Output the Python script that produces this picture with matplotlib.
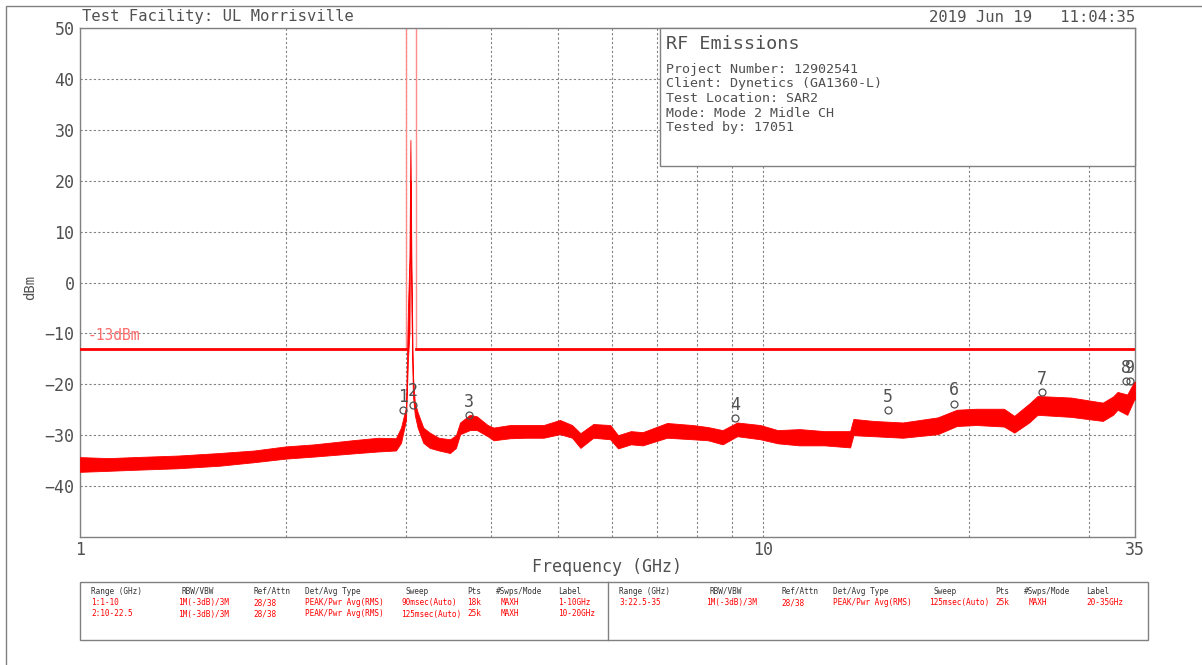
import numpy as np
import matplotlib.pyplot as plt
from matplotlib.patches import Rectangle

W, H = 1202, 665

# trace envelope (GHz, dBm low / high)
freq_ghz = [1.0, 1.1, 1.2, 1.39, 1.6, 1.8, 2.0, 2.2, 2.5, 2.73, 2.9, 2.95, 3.0,
            3.02, 3.035, 3.045, 3.055, 3.07, 3.09, 3.12, 3.18, 3.25, 3.35, 3.48,
            3.55, 3.6, 3.72, 3.81, 3.95, 4.03, 4.26, 4.5, 4.77, 5.04, 5.25, 5.4,
            5.64, 5.97, 6.13, 6.4, 6.66, 7.23, 7.88, 8.3, 8.72, 9.16, 9.9, 10.5,
            11.3, 12.3, 13.4, 13.55, 14.5, 16.0, 18.0, 19.2, 20.5, 22.5, 23.3,
            24.5, 25.2, 28.2, 31.4, 32.5, 33.0, 34.1, 34.9, 35.0]
level_lo = [-37.2, -37.0, -36.8, -36.5, -36.0, -35.3, -34.6, -34.2, -33.6, -33.2,
            -33.0, -31.5, -27.0, -15.0, -10.0, 20.0, -5.0, -22.0, -26.0, -28.5,
            -31.5, -32.5, -33.0, -33.5, -32.5, -29.8, -29.0, -29.0, -30.2, -31.0,
            -30.6, -30.5, -30.5, -29.8, -30.5, -32.5, -30.5, -30.8, -32.6, -31.8,
            -32.0, -30.5, -30.8, -31.0, -31.8, -30.2, -30.8, -31.6, -32.0, -32.0,
            -32.4, -30.0, -30.2, -30.5, -29.8, -28.2, -28.0, -28.3, -29.5, -27.5,
            -26.0, -26.4, -27.2, -26.0, -25.0, -26.0, -23.0, -23.0]
level_hi = [-34.3, -34.5, -34.3, -34.0, -33.5, -33.0, -32.2, -31.8, -31.0, -30.5,
            -30.6, -28.5, -24.5, -5.0, 5.0, 28.0, 5.0, -18.0, -23.5, -25.5,
            -28.5, -29.5, -30.5, -30.8, -30.0, -27.5, -26.0, -26.3, -28.0, -28.5,
            -28.0, -28.0, -28.0, -27.0, -28.0, -29.6, -27.8, -28.0, -30.0, -29.2,
            -29.4, -27.6, -28.0, -28.4, -29.0, -27.5, -28.0, -29.0, -28.8, -29.2,
            -29.2, -26.8, -27.2, -27.5, -26.5, -25.0, -24.8, -24.8, -26.2, -23.8,
            -22.3, -22.6, -23.6, -22.4, -21.5, -22.0, -19.5, -19.5]

# -13 dBm limit, lifted over the carrier band
limit_freq = [1.0, 3.0, 3.0, 3.1, 3.1, 35.0]
limit_level = [-13, -13, 100, 100, -13, -13]

marker_freq = [2.97, 3.07, 3.71, 9.1, 15.2, 19.0, 25.6, 33.9, 34.4]
marker_level = [-25.0, -24.0, -26.1, -26.7, -25.1, -23.8, -21.6, -19.4, -19.4]

info_lines = ['Project Number: 12902541', 'Client: Dynetics (GA1360-L)',
              'Test Location: SAR2', 'Mode: Mode 2 Midle CH', 'Tested by: 17051']

table_header = ['Range (GHz)', 'RBW/VBW', 'Ref/Attn', 'Det/Avg Type', 'Sweep',
                'Pts', '#Swps/Mode', 'Label']
table_left = [['1:1-10', '1M(-3dB)/3M', '28/38', 'PEAK/Pwr Avg(RMS)', '90msec(Auto)',
               '18k', 'MAXH', '1-10GHz'],
              ['2:10-22.5', '1M(-3dB)/3M', '28/38', 'PEAK/Pwr Avg(RMS)', '125msec(Auto)',
               '25k', 'MAXH', '10-20GHz']]
table_right = [['3:22.5-35', '1M(-3dB)/3M', '28/38', 'PEAK/Pwr Avg(RMS)', '125msec(Auto)',
                '25k', 'MAXH', '20-35GHz']]

plt.rcParams['font.family'] = ['DejaVu Sans Mono', 'DejaVu Sans']
gray = '#505050'
line_gray = '#808080'
red = '#ff0000'


def fx(px):
    return px / W


def fy(py):
    return 1 - py / H


fig = plt.figure(figsize=(W / 100, H / 100), dpi=100)
ax = fig.add_axes([fx(80), fy(537), fx(1135) - fx(80), fy(28) - fy(537)])

ax.set_xscale('log')
ax.set_xlim(1, 35)
ax.set_ylim(-50, 50)

ax.fill_between(freq_ghz, level_lo, level_hi, color=red, lw=0.6, zorder=3)
ax.plot(limit_freq, limit_level, color='#ff8a8a', lw=1, zorder=2)
ax.plot(limit_freq[:2], limit_level[:2], color=red, lw=2, zorder=4)
ax.plot(limit_freq[4:], limit_level[4:], color=red, lw=2, zorder=4)
ax.text(1.025, -10.5, '-13dBm', color='#ff6a6a', fontsize=10.5, va='center', zorder=4)

ax.plot(marker_freq, marker_level, 'o', ms=5, mfc='none', mec=gray, mew=0.9, zorder=5)
for i, (f, l) in enumerate(zip(marker_freq, marker_level)):
    ax.annotate(str(i + 1), (f, l), xytext=(0, 3), textcoords='offset points',
                ha='center', va='bottom', fontsize=12, color=gray, zorder=5)

ax.set_yticks(np.arange(-40, 51, 10))
ax.set_xticks([1, 10, 35])
ax.set_xticklabels(['1', '10', '35'])
ax.set_xticks([2, 3, 4, 5, 6, 7, 8, 9, 20, 30], minor=True)
ax.xaxis.set_minor_formatter(plt.NullFormatter())
ax.tick_params(length=0, which='both', colors=gray, labelsize=12)
ax.tick_params(axis='x', pad=3)
ax.tick_params(axis='y', pad=4)
ax.grid(True, which='both', axis='x', ls=(0, (2, 2)), color=line_gray, lw=0.8)
ax.grid(True, which='major', axis='y', ls=(0, (2, 2)), color=line_gray, lw=0.8)
for s in ax.spines.values():
    s.set_color(line_gray)
    s.set_linewidth(1)
ax.set_axisbelow(True)
ax.set_xlabel('Frequency (GHz)', fontsize=12, color=gray)
ax.xaxis.set_label_coords(0.5, -0.042)
ax.set_ylabel('dBm', fontsize=10, color=gray)
ax.yaxis.set_label_coords(-0.041, 0.49)

# page frame
fig.add_artist(Rectangle((fx(6), fy(700)), fx(1300), fy(6) - fy(700),
                         transform=fig.transFigure, fill=False, ec=line_gray, lw=1))

fig.text(fx(82), fy(17), 'Test Facility: UL Morrisville', fontsize=11.2, color=gray, va='center')
fig.text(fx(1135), fy(17), '2019 Jun 19   11:04:35', fontsize=11.2, color=gray,
         va='center', ha='right')

# info box
fig.add_artist(Rectangle((fx(660), fy(166)), fx(1135) - fx(660), fy(28) - fy(166),
                         transform=fig.transFigure, fc='white', ec=line_gray, lw=1, zorder=5))
fig.text(fx(666), fy(44), 'RF Emissions', fontsize=13.3, color=gray, va='center', zorder=6)
for i, t in enumerate(info_lines):
    fig.text(fx(666), fy(69 + i * 14.7), t, fontsize=9.6, color=gray, va='center', zorder=6)

# settings table
fig.add_artist(Rectangle((fx(80), fy(640)), fx(1148) - fx(80), fy(582) - fy(640),
                         transform=fig.transFigure, fill=False, ec=line_gray, lw=1))
fig.add_artist(plt.Line2D([fx(608), fx(608)], [fy(640), fy(582)],
                          transform=fig.transFigure, color=line_gray, lw=1))
head_off = [11, 101, 173, 225, 326, 387, 416, 478]
data_off = [11, 98, 173, 225, 321, 387, 421, 478]
for x0, rows in [(80, table_left), (608, table_right)]:
    for h, o in zip(table_header, head_off):
        fig.text(fx(x0 + o), fy(591), h, fontsize=5.6, color='#333333', va='center')
    for r, row in enumerate(rows):
        for v, o in zip(row, data_off):
            fig.text(fx(x0 + o), fy(602.5 + r * 11.5), v, fontsize=5.6, color=red, va='center')

fig.savefig('out.png', dpi=100)
